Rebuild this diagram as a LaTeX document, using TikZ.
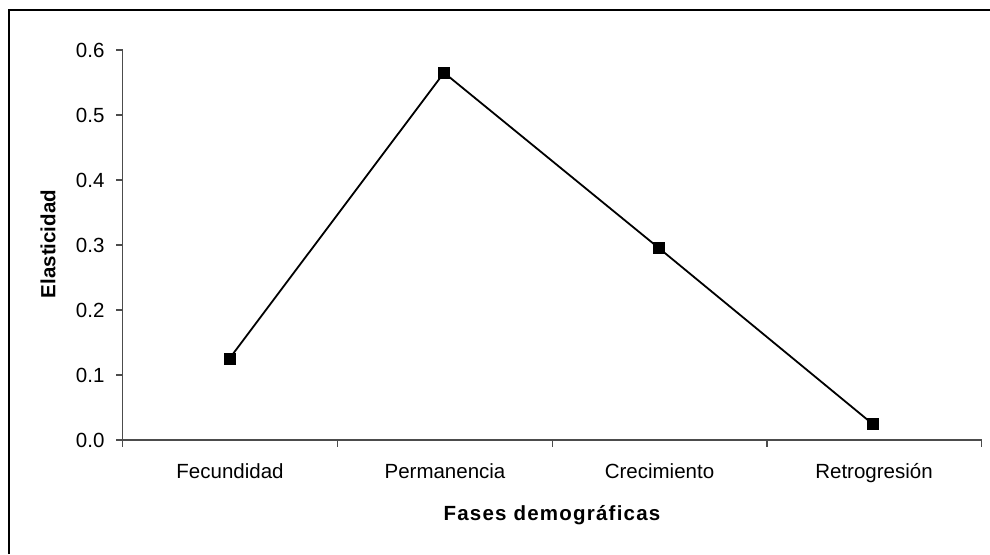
\documentclass[tikz,border=0pt]{standalone}
\usepackage{fontspec}
\setmainfont{Liberation Sans}
\newfontfamily\spacedsans[LetterSpace=6]{Liberation Sans}
\usetikzlibrary{positioning}

\begin{document}
\begin{tikzpicture}[x=1pt,y=-1pt,
    marker/.style={fill=black,minimum size=12pt,inner sep=0pt},
    ticklab/.style={font=\fontsize{20.5}{24}\selectfont},
    axtitle/.style={font=\fontsize{20.5}{24}\selectfont\bfseries},
    axisline/.style={draw=black!70,line width=1.3pt}]
      \useasboundingbox (0,0) rectangle (990,554);
      \draw[line width=1.6pt] (9,554) -- (9,10) -- (990,10);

      % axes
      \draw[axisline] (122.7,50) -- (122.7,440) -- (981.7,440);
      \draw[axisline] (116,50) -- (122.7,50);
      \draw[axisline] (116,115) -- (122.7,115);
      \draw[axisline] (116,180) -- (122.7,180);
      \draw[axisline] (116,245) -- (122.7,245);
      \draw[axisline] (116,310) -- (122.7,310);
      \draw[axisline] (116,375) -- (122.7,375);
      \draw[axisline] (116,440) -- (122.7,440);
      \draw[axisline] (122.7,440) -- (122.7,446.5);
      \draw[axisline] (337.5,440) -- (337.5,446.5);
      \draw[axisline] (552.2,440) -- (552.2,446.5);
      \draw[axisline] (767,440) -- (767,446.5);
      \draw[axisline] (981.7,440) -- (981.7,446.5);

      \node[ticklab,anchor=east] (y6) at (108,50) {0.6};
      \node[ticklab,anchor=east] (y5) at (108,115) {0.5};
      \node[ticklab,anchor=east] (y4) at (108,180) {0.4};
      \node[ticklab,anchor=east] (y3) at (108,245) {0.3};
      \node[ticklab,anchor=east] (y2) at (108,310) {0.2};
      \node[ticklab,anchor=east] (y1) at (108,375) {0.1};
      \node[ticklab,anchor=east] (y0) at (108,440) {0.0};

      \node[ticklab,anchor=base] (fec) at (230,478) {Fecundidad};
      \node[ticklab,anchor=base] (per) at (445,478) {Permanencia};
      \node[ticklab,anchor=base] (cre) at (659.5,478) {Crecimiento};
      \node[ticklab,anchor=base] (ret) at (874,478) {Retrogresión};

      \node[axtitle,anchor=base] (xtitle) at (552,520)
        {\spacedsans\bfseries Fases demográficas};
      \node[axtitle,rotate=90] (ytitle) at (48,244) {Elasticidad};

      % data
      \node[marker] (p1) at (229.5,358.5) {};
      \node[marker] (p2) at (444,72.7) {};
      \node[marker] (p3) at (659,248.2) {};
      \node[marker] (p4) at (873,424.3) {};
      \draw[line width=1.8pt] (p1.center) -- (p2.center) -- (p3.center)
        -- (p4.center);
\end{tikzpicture}
\end{document}
